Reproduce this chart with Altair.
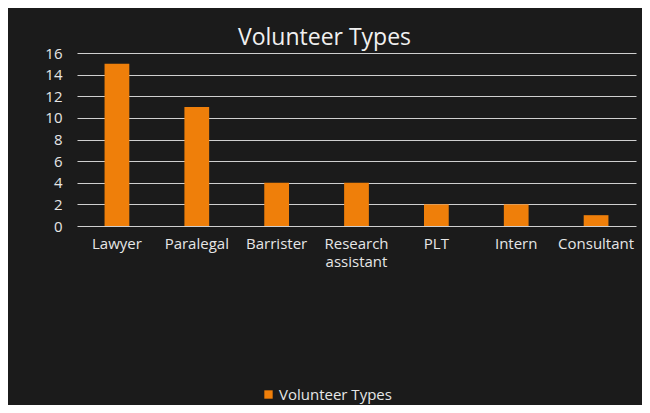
import altair as alt
import pandas as pd

categories = ["Lawyer", "Paralegal", "Barrister", "Research assistant", "PLT", "Intern", "Consultant"]
values = [15, 11, 4, 4, 2, 2, 1]
series = ["Volunteer Types"] * len(categories)
y_ticks = [0, 2, 4, 6, 8, 10, 12, 14, 16]

df = pd.DataFrame({"category": categories, "value": values, "series": series})

FONT = "Open Sans"
TXT = "#e6e6e6"

chart = alt.Chart(df).mark_bar(color="#EF7F0A").encode(
    x=alt.X("category:N", sort=categories,
            scale=alt.Scale(paddingInner=0.69, paddingOuter=0.345),
            axis=alt.Axis(title=None, labelAngle=0, domain=False, ticks=False,
                          labelPadding=10, labelFontSize=15, labelColor=TXT, labelFont=FONT,
                          labelLineHeight=18, labelBaseline="top",
                          labelExpr="datum.label == 'Research assistant' ? ['Research', 'assistant'] : datum.label")),
    y=alt.Y("value:Q", scale=alt.Scale(domain=[0, 16], nice=False),
            axis=alt.Axis(title=None, values=y_ticks, domain=False, ticks=False,
                          labelPadding=15, labelFontSize=15, labelColor=TXT, labelFont=FONT,
                          gridColor="#cfcfcf", gridWidth=1.2, gridOpacity=1)),
    color=alt.Color("series:N", scale=alt.Scale(range=["#EF7F0A"]),
                    legend=alt.Legend(title=None, orient="none", legendX=184, legendY=334,
                                      symbolType="square", symbolSize=70, symbolStrokeWidth=0,
                                      labelFontSize=15, labelColor=TXT, labelFont=FONT,
                                      labelOffset=3)),
).properties(
    width=559, height=173,
    title=alt.TitleParams("Volunteer Types", fontSize=23, font=FONT,
                          fontWeight="normal", color="#f0f0f0", anchor="middle", dx=-32, offset=-4),
    background="#1b1b1b",
    autosize=alt.AutoSizeParams(type="none"),
    padding={"left": 69, "top": 45, "right": 6, "bottom": 179},
).configure_view(stroke=None)

chart.save("out.html", embed_options={"renderer": "svg", "actions": False})
